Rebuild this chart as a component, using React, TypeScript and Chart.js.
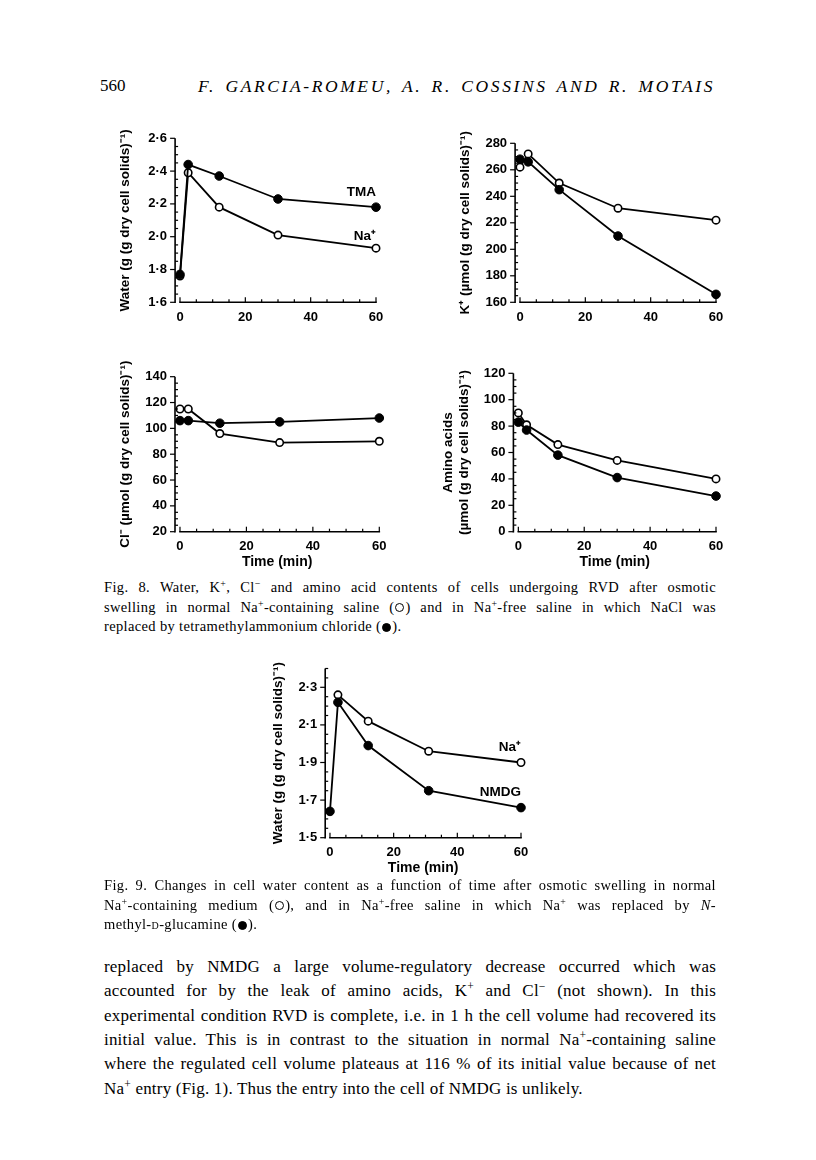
import React, { useEffect, useRef } from 'react';
import { Chart, registerables } from 'chart.js';

Chart.register(...registerables);

const SANS = "'Liberation Sans', Arial, Helvetica, sans-serif";
const SERIF = "'Liberation Serif', 'Times New Roman', serif";

// ---------- data ----------
const timeFig8 = [0, 2.5, 12, 30, 60];
const waterTMA = [1.77, 2.44, 2.37, 2.23, 2.18];
const waterNa = [1.76, 2.39, 2.18, 2.01, 1.93];
const potassiumTMA = [268, 266, 245, 210, 166];
const potassiumNa = [262, 272, 250, 231, 222];
const chlorideTMA = [106, 106, 104, 105, 108];
const chlorideNa = [115, 115, 96, 89, 90];
const aminoTMA = [83, 77, 58, 41, 27];
const aminoNa = [90, 81, 66, 54, 40];

const timeFig9NMDG = [0, 2.5, 12, 31, 60];
const waterNMDG = [1.64, 2.22, 1.99, 1.75, 1.66];
const timeFig9Na = [2.5, 12, 31, 60];
const waterFig9Na = [2.26, 2.12, 1.96, 1.9];

const timeTicks = [0, 20, 40, 60];
const waterTicksFig8 = [1.6, 1.8, 2.0, 2.2, 2.4, 2.6];
const potassiumTicks = [160, 180, 200, 220, 240, 260, 280];
const chlorideTicks = [20, 40, 60, 80, 100, 120, 140];
const aminoTicks = [0, 20, 40, 60, 80, 100, 120];
const waterTicksFig9 = [1.5, 1.7, 1.9, 2.1, 2.3];

// ---------- plugins ----------
const paperAxes = {
  id: 'paperAxes',
  afterDraw(chart: any, _args: any, opts: any) {
    const { ctx, chartArea } = chart;
    const xs = chart.scales.x;
    const ys = chart.scales.y;
    ctx.save();
    ctx.strokeStyle = '#000';
    ctx.lineWidth = 1.6;
    const ax = chartArea.left;
    const yTop = ys.getPixelForValue(ys.max);
    const yBot = ys.getPixelForValue(ys.min);
    ctx.beginPath();
    ctx.moveTo(ax, yTop);
    ctx.lineTo(ax, yBot + 0.8);
    ctx.stroke();
    const bx = chartArea.bottom;
    const x0 = xs.getPixelForValue(opts.xStart);
    const x1 = xs.getPixelForValue(opts.xEnd);
    ctx.beginPath();
    ctx.moveTo(x0 - 0.8, bx);
    ctx.lineTo(x1 + 0.8, bx);
    ctx.stroke();
    ctx.lineWidth = 1.2;
    const nx = Math.round((opts.xEnd - opts.xStart) / opts.xMinor);
    for (let i = 0; i <= nx; i++) {
      const v = opts.xStart + i * opts.xMinor;
      const p = xs.getPixelForValue(v);
      const major = opts.xMajor.some((m: number) => Math.abs(m - v) < 1e-6);
      ctx.beginPath();
      ctx.moveTo(p, bx);
      ctx.lineTo(p, bx - (major ? 5 : 3));
      ctx.stroke();
    }
    const ny = Math.round((ys.max - ys.min) / opts.yMinor);
    for (let i = 0; i <= ny; i++) {
      const v = ys.min + i * opts.yMinor;
      const p = ys.getPixelForValue(v);
      const major = opts.yMajor.some((m: number) => Math.abs(m - v) < 1e-6);
      ctx.beginPath();
      if (major) {
        ctx.moveTo(ax, p);
        ctx.lineTo(ax - 5, p);
      } else {
        ctx.moveTo(ax, p);
        ctx.lineTo(ax + 3, p);
      }
      ctx.stroke();
    }
    ctx.restore();
  },
};

const notesPlugin = {
  id: 'notes',
  afterDatasetsDraw(chart: any, _args: any, opts: any) {
    const items = (opts && opts.items) || [];
    const ctx = chart.ctx;
    ctx.save();
    ctx.font = `bold 13.5px ${SANS}`;
    ctx.fillStyle = '#000';
    ctx.textAlign = 'right';
    ctx.textBaseline = 'middle';
    items.forEach((it: any) => {
      ctx.fillText(it.text, chart.scales.x.getPixelForValue(it.x), chart.scales.y.getPixelForValue(it.y));
    });
    ctx.restore();
  },
};

const zip = (xs: number[], ys: number[]) => xs.map((x, i) => ({ x, y: ys[i] }));

type Note = { text: string; x: number; y: number };
type PanelSpec = {
  left: number;
  top: number;
  width: number;
  areaLeft: number;
  areaTop: number;
  areaRight: number;
  areaBottom: number;
  yMin: number;
  yMax: number;
  yTicks: number[];
  yMinor: number;
  decimals: number;
  yTitle: string | string[];
  yTitleX: number;
  xTitle?: string;
  filledX: number[];
  filledY: number[];
  openX: number[];
  openY: number[];
  notes: Note[];
};

function Panel(p: PanelSpec) {
  const ref = useRef<HTMLCanvasElement>(null);
  const bottomBox = p.xTitle ? 42.4 : 28;
  const height = Math.round(p.areaBottom - p.top + bottomBox);
  useEffect(() => {
    const areaL = p.areaLeft - p.left;
    const areaT = p.areaTop - p.top;
    const areaR = p.areaRight - p.left;
    const areaB = p.areaBottom - p.top;
    const titleSize = 13.5;
    const titleLH = titleSize * 1.2;
    const fmt = (v: number) =>
      p.decimals > 0 ? v.toFixed(p.decimals).replace('.', '\u00B7') : String(Math.round(v));
    const chart = new Chart(ref.current as HTMLCanvasElement, {
      type: 'line',
      data: {
        datasets: [
          {
            data: zip(p.filledX, p.filledY),
            borderColor: '#000',
            borderWidth: 1.8,
            pointRadius: 4.3,
            pointBackgroundColor: '#000',
            pointBorderColor: '#000',
            pointBorderWidth: 1,
            tension: 0,
            clip: false,
          },
          {
            data: zip(p.openX, p.openY),
            borderColor: '#000',
            borderWidth: 1.8,
            pointRadius: 3.7,
            pointBackgroundColor: '#fff',
            pointBorderColor: '#000',
            pointBorderWidth: 1.6,
            tension: 0,
            clip: false,
          },
        ],
      } as any,
      options: {
        animation: false,
        responsive: false,
        devicePixelRatio: 1,
        layout: { padding: { left: 0, top: areaT, right: p.width - areaR, bottom: 0 } },
        plugins: {
          legend: { display: false },
          tooltip: { enabled: false },
          paperAxes: { xStart: 0, xEnd: 60, xMinor: 5, xMajor: timeTicks, yMinor: p.yMinor, yMajor: p.yTicks },
          notes: { items: p.notes },
        } as any,
        scales: {
          x: {
            type: 'linear',
            min: -1.5,
            max: 60,
            grid: { display: false, drawTicks: false },
            border: { display: false },
            afterBuildTicks: (s: any) => {
              s.ticks = timeTicks.map((v) => ({ value: v }));
            },
            afterFit: (s: any) => {
              s.height = height - areaB;
            },
            ticks: {
              color: '#000',
              font: { family: SANS, size: 13, weight: 'bold' },
              padding: 7,
              maxRotation: 0,
              autoSkip: false,
              callback: (v: any) => String(v),
            },
            title: p.xTitle
              ? {
                  display: true,
                  text: p.xTitle,
                  color: '#000',
                  font: { family: SANS, size: 14, weight: 'bold' },
                  padding: { top: 0, bottom: 3 },
                }
              : { display: false },
          },
          y: {
            type: 'linear',
            min: p.yMin,
            max: p.yMax,
            grid: { display: false, drawTicks: false },
            border: { display: false },
            afterBuildTicks: (s: any) => {
              s.ticks = p.yTicks.map((v) => ({ value: v }));
            },
            afterFit: (s: any) => {
              s.width = areaL;
            },
            ticks: {
              color: '#000',
              font: { family: SANS, size: 13, weight: 'bold' },
              padding: 8,
              autoSkip: false,
              callback: (v: any) => fmt(Number(v)),
            },
            title: {
              display: true,
              text: p.yTitle,
              color: '#000',
              font: { family: SANS, size: titleSize, weight: 'bold' },
              padding: { top: p.yTitleX - p.left - titleLH / 2, bottom: 0 },
            },
          },
        },
      } as any,
      plugins: [paperAxes, notesPlugin] as any,
    });
    return () => chart.destroy();
  }, []);
  return (
    <canvas
      ref={ref}
      width={p.width}
      height={height}
      style={{ position: 'absolute', left: p.left, top: p.top, width: p.width, height }}
    />
  );
}

const Sup = ({ children }: { children: React.ReactNode }) => (
  <span style={{ fontSize: '0.68em', verticalAlign: '0.5em', lineHeight: 0 }}>{children}</span>
);

const Circle = ({ filled }: { filled?: boolean }) => (
  <span
    style={{
      display: 'inline-block',
      width: 9,
      height: 9,
      boxSizing: 'border-box',
      border: '1.3px solid #000',
      borderRadius: '50%',
      background: filled ? '#000' : 'transparent',
      verticalAlign: '-0.5px',
      margin: '0 1px',
    }}
  />
);

function Line({ children, last, lh }: { children: React.ReactNode; last?: boolean; lh: number }) {
  return (
    <div
      style={{
        width: 612,
        height: lh,
        lineHeight: `${lh}px`,
        textAlign: last ? 'left' : 'justify',
        textAlignLast: last ? 'left' : 'justify',
        whiteSpace: 'normal',
        overflow: 'visible',
      } as any}
    >
      {children}
    </div>
  );
}

export default function App() {
  const waterTitle = 'Water (g (g dry cell solids)\u207B\u00B9)';
  return (
    <div
      style={{
        position: 'absolute',
        left: 0,
        top: 0,
        width: 816,
        height: 1160,
        background: '#fff',
        color: '#000',
        fontFamily: SERIF,
        overflow: 'hidden',
      }}
    >
      {/* running head */}
      <div style={{ position: 'absolute', left: 100, top: 76, fontSize: 17, lineHeight: '20px' }}>560</div>
      <div
        style={{
          position: 'absolute',
          left: 198,
          top: 76,
          width: 517,
          fontSize: 17.5,
          lineHeight: '20px',
          fontStyle: 'italic',
          letterSpacing: 2.6,
          textAlign: 'justify',
          textAlignLast: 'justify',
        } as any}
      >
        F. GARCIA-ROMEU, A. R. COSSINS AND R. MOTAIS
      </div>

      <Panel
        left={100}
        top={105}
        width={295}
        areaLeft={175.1}
        areaTop={138.3}
        areaRight={376}
        areaBottom={302.3}
        yMin={1.6}
        yMax={2.6}
        yTicks={waterTicksFig8}
        yMinor={0.05}
        decimals={1}
        yTitle={waterTitle}
        yTitleX={125}
        filledX={timeFig8}
        filledY={waterTMA}
        openX={timeFig8}
        openY={waterNa}
        notes={[
          { text: 'TMA', x: 60, y: 2.27 },
          { text: 'Na\u207A', x: 60, y: 2.0 },
        ]}
      />
      <Panel
        left={440}
        top={105}
        width={295}
        areaLeft={515.1}
        areaTop={143.3}
        areaRight={716}
        areaBottom={302.3}
        yMin={160}
        yMax={280}
        yTicks={potassiumTicks}
        yMinor={5}
        decimals={0}
        yTitle={'K\u207A (\u00B5mol (g dry cell solids)\u207B\u00B9)'}
        yTitleX={465}
        filledX={timeFig8}
        filledY={potassiumTMA}
        openX={timeFig8}
        openY={potassiumNa}
        notes={[]}
      />
      <Panel
        left={100}
        top={348}
        width={295}
        areaLeft={175}
        areaTop={376.7}
        areaRight={379.3}
        areaBottom={531.7}
        yMin={20}
        yMax={140}
        yTicks={chlorideTicks}
        yMinor={5}
        decimals={0}
        yTitle={'Cl\u207B (\u00B5mol (g dry cell solids)\u207B\u00B9)'}
        yTitleX={125}
        xTitle="Time (min)"
        filledX={timeFig8}
        filledY={chlorideTMA}
        openX={timeFig8}
        openY={chlorideNa}
        notes={[]}
      />
      <Panel
        left={430}
        top={348}
        width={305}
        areaLeft={513.4}
        areaTop={373.3}
        areaRight={716}
        areaBottom={531.7}
        yMin={0}
        yMax={120}
        yTicks={aminoTicks}
        yMinor={5}
        decimals={0}
        yTitle={['Amino acids', '(\u00B5mol (g dry cell solids)\u207B\u00B9)']}
        yTitleX={448}
        xTitle="Time (min)"
        filledX={timeFig8}
        filledY={aminoTMA}
        openX={timeFig8}
        openY={aminoNa}
        notes={[]}
      />

      <div style={{ position: 'absolute', left: 104, top: 578.3, fontSize: 14.5, letterSpacing: 0.35 }}>
        <Line lh={19.5}>
          Fig. 8. Water, K<Sup>+</Sup>, Cl<Sup>{'\u2212'}</Sup> and amino acid contents of cells undergoing RVD after
          osmotic
        </Line>
        <Line lh={19.5}>
          swelling in normal Na<Sup>+</Sup>-containing saline (<Circle />) and in Na<Sup>+</Sup>-free saline in which
          NaCl was
        </Line>
        <Line lh={19.5} last>
          replaced by tetramethylammonium chloride (<Circle filled />).
        </Line>
      </div>

      <Panel
        left={250}
        top={640}
        width={290}
        areaLeft={325.2}
        areaTop={668.5}
        areaRight={521}
        areaBottom={837.7}
        yMin={1.5}
        yMax={2.4}
        yTicks={waterTicksFig9}
        yMinor={0.05}
        decimals={1}
        yTitle={waterTitle}
        yTitleX={278}
        xTitle="Time (min)"
        filledX={timeFig9NMDG}
        filledY={waterNMDG}
        openX={timeFig9Na}
        openY={waterFig9Na}
        notes={[
          { text: 'Na\u207A', x: 60, y: 1.98 },
          { text: 'NMDG', x: 60, y: 1.74 },
        ]}
      />

      <div style={{ position: 'absolute', left: 104, top: 876.3, fontSize: 14.5, letterSpacing: 0.35 }}>
        <Line lh={19.5}>
          Fig. 9. Changes in cell water content as a function of time after osmotic swelling in normal
        </Line>
        <Line lh={19.5}>
          Na<Sup>+</Sup>-containing medium (<Circle />), and in Na<Sup>+</Sup>-free saline in which Na<Sup>+</Sup> was
          replaced by <i>N</i>-
        </Line>
        <Line lh={19.5} last>
          methyl-<span style={{ fontVariant: 'small-caps' }}>d</span>-glucamine (<Circle filled />).
        </Line>
      </div>

      <div style={{ position: 'absolute', left: 104, top: 954.8, fontSize: 17, letterSpacing: 0.2 }}>
        <Line lh={24.4}>replaced by NMDG a large volume-regulatory decrease occurred which was</Line>
        <Line lh={24.4}>
          accounted for by the leak of amino acids, K<Sup>+</Sup> and Cl<Sup>{'\u2212'}</Sup> (not shown). In this
        </Line>
        <Line lh={24.4}>
          experimental condition RVD is complete, i.e. in 1 h the cell volume had recovered its
        </Line>
        <Line lh={24.4}>
          initial value. This is in contrast to the situation in normal Na<Sup>+</Sup>-containing saline
        </Line>
        <Line lh={24.4}>
          where the regulated cell volume plateaus at 116 % of its initial value because of net
        </Line>
        <Line lh={24.4} last>
          Na<Sup>+</Sup> entry (Fig. 1). Thus the entry into the cell of NMDG is unlikely.
        </Line>
      </div>
    </div>
  );
}
